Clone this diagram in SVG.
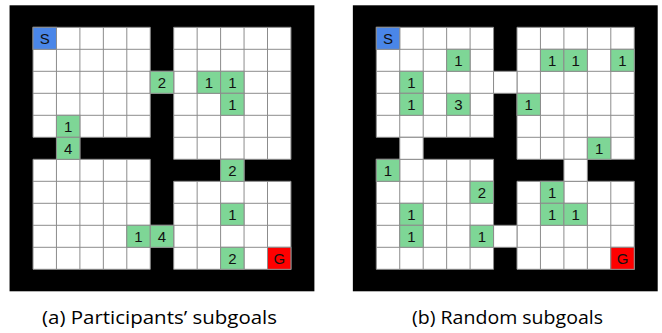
<svg xmlns="http://www.w3.org/2000/svg" xmlns:xlink="http://www.w3.org/1999/xlink" width="662" height="333" viewBox="0 0 662 333">
<style>
  .wall { fill: #000000; }
  .room { fill: #ffffff; }
  .grid { fill: none; stroke: #8c8c8c; stroke-width: 1; }
  .cell { stroke: #8c8c8c; stroke-width: 1; }
  .w { fill: #ffffff; }
  .g { fill: #7ed696; }
  .s { fill: #4a86e8; }
  .r { fill: #ff0000; }
  .lbl { font-family: "Liberation Sans", Arial, sans-serif; font-size: 15px; fill: #111111; text-anchor: middle; }
  .cap { font-family: "Open Sans", "Noto Sans", sans-serif; font-size: 17.5px; fill: #000000; text-anchor: middle; }
</style>
<defs>
  <g id="maze">
    <rect class="wall" x="-23.45" y="-22" width="304.85" height="286"/>
    <rect class="room" x="0" y="0" width="117.25" height="110"/>
    <rect class="room" x="140.7" y="0" width="117.25" height="132"/>
    <rect class="room" x="0" y="132" width="117.25" height="110"/>
    <rect class="room" x="140.7" y="154" width="117.25" height="88"/>
    <path class="grid" d="M0 0V110M23.45 0V110M46.9 0V110M70.35 0V110M93.8 0V110M117.25 0V110M0 0H117.25M0 22H117.25M0 44H117.25M0 66H117.25M0 88H117.25M0 110H117.25"/>
    <path class="grid" d="M140.7 0V132M164.15 0V132M187.6 0V132M211.05 0V132M234.5 0V132M257.95 0V132M140.7 0H257.95M140.7 22H257.95M140.7 44H257.95M140.7 66H257.95M140.7 88H257.95M140.7 110H257.95M140.7 132H257.95"/>
    <path class="grid" d="M0 132V242M23.45 132V242M46.9 132V242M70.35 132V242M93.8 132V242M117.25 132V242M0 132H117.25M0 154H117.25M0 176H117.25M0 198H117.25M0 220H117.25M0 242H117.25"/>
    <path class="grid" d="M140.7 154V242M164.15 154V242M187.6 154V242M211.05 154V242M234.5 154V242M257.95 154V242M140.7 154H257.95M140.7 176H257.95M140.7 198H257.95M140.7 220H257.95M140.7 242H257.95"/>
    <rect class="cell w" x="117.25" y="44" width="23.45" height="22"/>
    <rect class="cell w" x="23.45" y="110" width="23.45" height="22"/>
    <rect class="cell w" x="187.6" y="132" width="23.45" height="22"/>
    <rect class="cell w" x="117.25" y="198" width="23.45" height="22"/>
  </g>
</defs>

<g id="maze-a" transform="translate(33,27.3)">
  <use xlink:href="#maze" href="#maze"/>
  <g id="a-start"><rect class="cell s" x="0" y="0" width="23.45" height="22"/><text class="lbl" x="11.73" y="16.5">S</text></g>
  <g id="a-goal"><rect class="cell r" x="234.5" y="220" width="23.45" height="22"/><text class="lbl" x="246.23" y="236.5">G</text></g>
  <g id="a-r2c5"><rect class="cell g" x="117.25" y="44" width="23.45" height="22"/><text class="lbl" x="128.98" y="60.5">2</text></g>
  <g id="a-r2c7"><rect class="cell g" x="164.15" y="44" width="23.45" height="22"/><text class="lbl" x="175.88" y="60.5">1</text></g>
  <g id="a-r2c8"><rect class="cell g" x="187.6" y="44" width="23.45" height="22"/><text class="lbl" x="199.33" y="60.5">1</text></g>
  <g id="a-r3c8"><rect class="cell g" x="187.6" y="66" width="23.45" height="22"/><text class="lbl" x="199.33" y="82.5">1</text></g>
  <g id="a-r4c1"><rect class="cell g" x="23.45" y="88" width="23.45" height="22"/><text class="lbl" x="35.18" y="104.5">1</text></g>
  <g id="a-r5c1"><rect class="cell g" x="23.45" y="110" width="23.45" height="22"/><text class="lbl" x="35.18" y="126.5">4</text></g>
  <g id="a-r6c8"><rect class="cell g" x="187.6" y="132" width="23.45" height="22"/><text class="lbl" x="199.33" y="148.5">2</text></g>
  <g id="a-r8c8"><rect class="cell g" x="187.6" y="176" width="23.45" height="22"/><text class="lbl" x="199.33" y="192.5">1</text></g>
  <g id="a-r9c4"><rect class="cell g" x="93.8" y="198" width="23.45" height="22"/><text class="lbl" x="105.53" y="214.5">1</text></g>
  <g id="a-r9c5"><rect class="cell g" x="117.25" y="198" width="23.45" height="22"/><text class="lbl" x="128.98" y="214.5">4</text></g>
  <g id="a-r10c8"><rect class="cell g" x="187.6" y="220" width="23.45" height="22"/><text class="lbl" x="199.33" y="236.5">2</text></g>
</g>

<g id="maze-b" transform="translate(376.3,27.3)">
  <use xlink:href="#maze" href="#maze"/>
  <g id="b-start"><rect class="cell s" x="0" y="0" width="23.45" height="22"/><text class="lbl" x="11.73" y="16.5">S</text></g>
  <g id="b-goal"><rect class="cell r" x="234.5" y="220" width="23.45" height="22"/><text class="lbl" x="246.23" y="236.5">G</text></g>
  <g id="b-r1c3"><rect class="cell g" x="70.35" y="22" width="23.45" height="22"/><text class="lbl" x="82.08" y="38.5">1</text></g>
  <g id="b-r1c7"><rect class="cell g" x="164.15" y="22" width="23.45" height="22"/><text class="lbl" x="175.88" y="38.5">1</text></g>
  <g id="b-r1c8"><rect class="cell g" x="187.6" y="22" width="23.45" height="22"/><text class="lbl" x="199.33" y="38.5">1</text></g>
  <g id="b-r1c10"><rect class="cell g" x="234.5" y="22" width="23.45" height="22"/><text class="lbl" x="246.23" y="38.5">1</text></g>
  <g id="b-r2c1"><rect class="cell g" x="23.45" y="44" width="23.45" height="22"/><text class="lbl" x="35.18" y="60.5">1</text></g>
  <g id="b-r3c1"><rect class="cell g" x="23.45" y="66" width="23.45" height="22"/><text class="lbl" x="35.18" y="82.5">1</text></g>
  <g id="b-r3c3"><rect class="cell g" x="70.35" y="66" width="23.45" height="22"/><text class="lbl" x="82.08" y="82.5">3</text></g>
  <g id="b-r3c6"><rect class="cell g" x="140.7" y="66" width="23.45" height="22"/><text class="lbl" x="152.43" y="82.5">1</text></g>
  <g id="b-r5c9"><rect class="cell g" x="211.05" y="110" width="23.45" height="22"/><text class="lbl" x="222.78" y="126.5">1</text></g>
  <g id="b-r6c0"><rect class="cell g" x="0" y="132" width="23.45" height="22"/><text class="lbl" x="11.73" y="148.5">1</text></g>
  <g id="b-r7c4"><rect class="cell g" x="93.8" y="154" width="23.45" height="22"/><text class="lbl" x="105.53" y="170.5">2</text></g>
  <g id="b-r7c7"><rect class="cell g" x="164.15" y="154" width="23.45" height="22"/><text class="lbl" x="175.88" y="170.5">1</text></g>
  <g id="b-r8c1"><rect class="cell g" x="23.45" y="176" width="23.45" height="22"/><text class="lbl" x="35.18" y="192.5">1</text></g>
  <g id="b-r8c7"><rect class="cell g" x="164.15" y="176" width="23.45" height="22"/><text class="lbl" x="175.88" y="192.5">1</text></g>
  <g id="b-r8c8"><rect class="cell g" x="187.6" y="176" width="23.45" height="22"/><text class="lbl" x="199.33" y="192.5">1</text></g>
  <g id="b-r9c1"><rect class="cell g" x="23.45" y="198" width="23.45" height="22"/><text class="lbl" x="35.18" y="214.5">1</text></g>
  <g id="b-r9c4"><rect class="cell g" x="93.8" y="198" width="23.45" height="22"/><text class="lbl" x="105.53" y="214.5">1</text></g>
</g>

<g id="captions">
  <text class="cap" x="159.5" y="324" textLength="235" lengthAdjust="spacingAndGlyphs">(a) Participants’ subgoals</text>
  <text class="cap" x="507.5" y="324" textLength="191" lengthAdjust="spacingAndGlyphs">(b) Random subgoals</text>
</g>
<g id="connectors"></g>
</svg>
